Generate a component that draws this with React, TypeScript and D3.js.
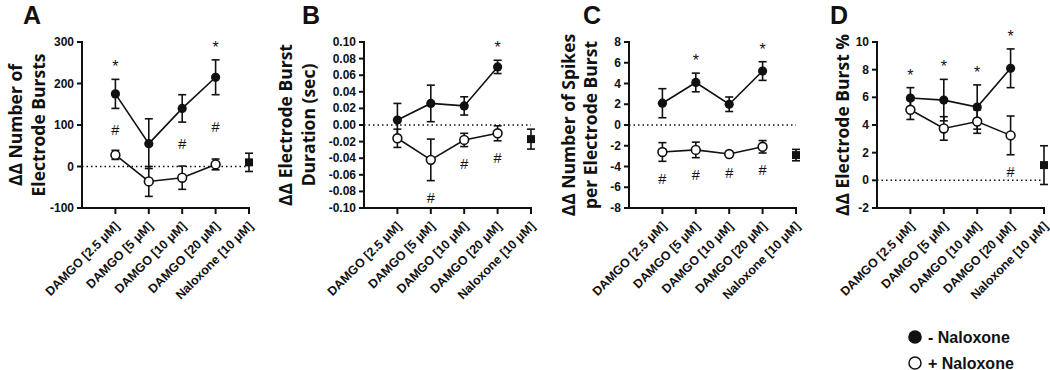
import React from "react";
import * as d3 from "d3";

// Treatment groups along every x axis
const categories = [
  "DAMGO [2.5 μM]",
  "DAMGO [5 μM]",
  "DAMGO [10 μM]",
  "DAMGO [20 μM]",
  "Naloxone [10 μM]",
];

// A: number of electrode bursts
const burstsMinus = [175, 55, 140, 215];
const burstsMinusErr = [35, 60, 33, 42];
const burstsPlus = [28, -36, -27, 5];
const burstsPlusErr = [11, 36, 28, 13];
const burstsNalox = 10;
const burstsNaloxErr = 22;
const burstsTicks = [-100, 0, 100, 200, 300];
const burstsStars = [0, 3];
const burstsHashes = [0, 2, 3];

// B: electrode burst duration (sec)
const durationMinus = [0.006, 0.026, 0.023, 0.07];
const durationMinusErr = [0.02, 0.022, 0.011, 0.008];
const durationPlus = [-0.016, -0.042, -0.018, -0.01];
const durationPlusErr = [0.011, 0.025, 0.008, 0.009];
const durationNalox = -0.017;
const durationNaloxErr = 0.012;
const durationTicks = [-0.1, -0.08, -0.06, -0.04, -0.02, 0, 0.02, 0.04, 0.06, 0.08, 0.1];
const durationStars = [3];
const durationHashes = [1, 2, 3];

// C: number of spikes per electrode burst
const spikesMinus = [2.1, 4.1, 2.0, 5.2];
const spikesMinusErr = [1.4, 0.9, 0.7, 0.9];
const spikesPlus = [-2.6, -2.4, -2.8, -2.1];
const spikesPlusErr = [0.9, 0.75, 0.2, 0.6];
const spikesNalox = -2.9;
const spikesNaloxErr = 0.55;
const spikesTicks = [-8, -6, -4, -2, 0, 2, 4, 6, 8];
const spikesStars = [1, 3];
const spikesHashes = [0, 1, 2, 3];

// D: electrode burst percentage
const percentMinus = [5.95, 5.8, 5.3, 8.1];
const percentMinusErr = [0.75, 1.5, 1.6, 1.4];
const percentPlus = [5.1, 3.75, 4.25, 3.25];
const percentPlusErr = [0.7, 0.85, 0.85, 1.4];
const percentNalox = 1.1;
const percentNaloxErr = 1.4;
const percentTicks = [-2, 0, 2, 4, 6, 8, 10];
const percentStars = [0, 1, 2, 3];
const percentHashes = [3];

const W = 1050;
const H = 370;
const TOP = 42;
const BOTTOM = 208;
const PLOT_W = 167;

const TICK_FONT = "'Liberation Sans', Arial, sans-serif";
const TITLE_FONT = "'Open Sans', 'Liberation Sans', sans-serif";

type PanelCfg = {
  letter: string;
  letterX: number;
  left: number;
  titles: { text: string; dx: number }[];
  ticks: number[];
  fmt: (v: number) => string;
  minus: number[];
  minusErr: number[];
  plus: number[];
  plusErr: number[];
  nalox: number;
  naloxErr: number;
  stars: number[];
  hashes: number[];
  hashMode: "between" | "below";
};

const hyphen = (f: (v: number) => string) => (v: number) => f(v).replace("−", "-");

const panels: PanelCfg[] = [
  {
    letter: "A",
    letterX: 23,
    left: 82,
    titles: [
      { text: "ΔΔ Number of", dx: -67 },
      { text: "Electrode Bursts", dx: -44 },
    ],
    ticks: burstsTicks,
    fmt: hyphen(d3.format("d")),
    minus: burstsMinus,
    minusErr: burstsMinusErr,
    plus: burstsPlus,
    plusErr: burstsPlusErr,
    nalox: burstsNalox,
    naloxErr: burstsNaloxErr,
    stars: burstsStars,
    hashes: burstsHashes,
    hashMode: "between",
  },
  {
    letter: "B",
    letterX: 302,
    left: 364,
    titles: [
      { text: "ΔΔ Electrode Burst", dx: -79 },
      { text: "Duration (sec)", dx: -56 },
    ],
    ticks: durationTicks,
    fmt: hyphen(d3.format(".2f")),
    minus: durationMinus,
    minusErr: durationMinusErr,
    plus: durationPlus,
    plusErr: durationPlusErr,
    nalox: durationNalox,
    naloxErr: durationNaloxErr,
    stars: durationStars,
    hashes: durationHashes,
    hashMode: "below",
  },
  {
    letter: "C",
    letterX: 583,
    left: 629,
    titles: [
      { text: "ΔΔ Number of Spikes", dx: -61 },
      { text: "per Electrode Burst", dx: -39 },
    ],
    ticks: spikesTicks,
    fmt: hyphen(d3.format("d")),
    minus: spikesMinus,
    minusErr: spikesMinusErr,
    plus: spikesPlus,
    plusErr: spikesPlusErr,
    nalox: spikesNalox,
    naloxErr: spikesNaloxErr,
    stars: spikesStars,
    hashes: spikesHashes,
    hashMode: "below",
  },
  {
    letter: "D",
    letterX: 830,
    left: 877,
    titles: [{ text: "ΔΔ Electrode Burst %", dx: -35 }],
    ticks: percentTicks,
    fmt: hyphen(d3.format("d")),
    minus: percentMinus,
    minusErr: percentMinusErr,
    plus: percentPlus,
    plusErr: percentPlusErr,
    nalox: percentNalox,
    naloxErr: percentNaloxErr,
    stars: percentStars,
    hashes: percentHashes,
    hashMode: "below",
  },
];

function ErrorBar({ x, y0, y1 }: { x: number; y0: number; y1: number }) {
  const cap = 4;
  return (
    <g stroke="#111" strokeWidth={1.6} fill="none">
      <line x1={x} x2={x} y1={y0} y2={y1} />
      <line x1={x - cap} x2={x + cap} y1={y0} y2={y0} />
      <line x1={x - cap} x2={x + cap} y1={y1} y2={y1} />
    </g>
  );
}

function Panel({ cfg }: { cfg: PanelCfg }) {
  const ext = d3.extent(cfg.ticks) as [number, number];
  const x = d3.scaleLinear().domain([0, categories.length]).range([cfg.left, cfg.left + PLOT_W]);
  const y = d3.scaleLinear().domain(ext).range([BOTTOM, TOP]);
  const px = (i: number) => x(i + 1);
  const line = d3
    .line<number>()
    .x((_, i) => px(i))
    .y((d) => y(d));
  const naloxIdx = categories.length - 1;
  const midY = (TOP + BOTTOM) / 2;
  const starFs = 16;
  const hashFs = 14.5;

  return (
    <g>
      <text
        x={cfg.letterX}
        y={24}
        fontFamily={TICK_FONT}
        fontWeight="bold"
        fontSize={25}
        fill="#111"
      >
        {cfg.letter}
      </text>

      {cfg.titles.map((t) => (
        <text
          key={t.text}
          transform={`translate(${cfg.left + t.dx},${midY}) rotate(-90)`}
          textAnchor="middle"
          dominantBaseline="central"
          fontFamily={TITLE_FONT}
          fontWeight="bold"
          fontSize={17.5}
          fill="#111"
        >
          {t.text}
        </text>
      ))}

      {/* zero reference */}
      <line
        x1={x(0)}
        x2={x(categories.length)}
        y1={y(0)}
        y2={y(0)}
        stroke="#111"
        strokeWidth={1.5}
        strokeDasharray="1.5 3"
      />

      {/* y axis */}
      <line x1={x(0)} x2={x(0)} y1={TOP - 1} y2={BOTTOM + 1} stroke="#111" strokeWidth={2} />
      {cfg.ticks.map((t) => (
        <g key={t}>
          <line x1={x(0) - 5} x2={x(0)} y1={y(t)} y2={y(t)} stroke="#111" strokeWidth={2} />
          <text
            x={x(0) - 8}
            y={y(t)}
            textAnchor="end"
            dominantBaseline="central"
            fontFamily={TICK_FONT}
            fontWeight="bold"
            fontSize={12}
            fill="#111"
          >
            {cfg.fmt(t)}
          </text>
        </g>
      ))}

      {/* x axis */}
      <line x1={x(0) - 1} x2={x(categories.length) + 1} y1={BOTTOM} y2={BOTTOM} stroke="#111" strokeWidth={2} />
      {categories.map((c, i) => (
        <g key={c}>
          <line x1={px(i)} x2={px(i)} y1={BOTTOM} y2={BOTTOM + 6} stroke="#111" strokeWidth={2} />
          <text
            transform={`translate(${px(i) + 2},${BOTTOM + 16}) rotate(-45)`}
            textAnchor="end"
            dominantBaseline="central"
            fontFamily={TICK_FONT}
            fontWeight="bold"
            fontSize={12.5}
            fill="#111"
          >
            {c}
          </text>
        </g>
      ))}

      {/* connecting lines */}
      <path d={line(cfg.minus) ?? ""} fill="none" stroke="#111" strokeWidth={1.6} />
      <path d={line(cfg.plus) ?? ""} fill="none" stroke="#111" strokeWidth={1.6} />

      {/* error bars */}
      {cfg.minus.map((v, i) => (
        <ErrorBar key={`me${i}`} x={px(i)} y0={y(v - cfg.minusErr[i])} y1={y(v + cfg.minusErr[i])} />
      ))}
      {cfg.plus.map((v, i) => (
        <ErrorBar key={`pe${i}`} x={px(i)} y0={y(v - cfg.plusErr[i])} y1={y(v + cfg.plusErr[i])} />
      ))}
      <ErrorBar x={px(naloxIdx)} y0={y(cfg.nalox - cfg.naloxErr)} y1={y(cfg.nalox + cfg.naloxErr)} />

      {/* markers */}
      {cfg.plus.map((v, i) => (
        <circle key={`pc${i}`} cx={px(i)} cy={y(v)} r={4.4} fill="#fff" stroke="#111" strokeWidth={1.6} />
      ))}
      {cfg.minus.map((v, i) => (
        <circle key={`mc${i}`} cx={px(i)} cy={y(v)} r={4.6} fill="#111" />
      ))}
      <rect x={px(naloxIdx) - 4} y={y(cfg.nalox) - 4} width={8} height={8} fill="#111" />

      {/* significance marks */}
      {cfg.stars.map((i) => {
        const c = y(cfg.minus[i] + cfg.minusErr[i]) - 16;
        return (
          <text
            key={`s${i}`}
            x={px(i)}
            y={c + starFs * 0.56}
            textAnchor="middle"
            fontFamily={TICK_FONT}
            fontSize={starFs}
            fill="#111"
          >
            *
          </text>
        );
      })}
      {cfg.hashes.map((i) => {
        const c =
          cfg.hashMode === "between"
            ? (y(cfg.minus[i] - cfg.minusErr[i]) + y(cfg.plus[i] + cfg.plusErr[i])) / 2
            : y(cfg.plus[i] - cfg.plusErr[i]) + 17;
        return (
          <text
            key={`h${i}`}
            x={px(i)}
            y={c + hashFs * 0.36}
            textAnchor="middle"
            fontFamily={TICK_FONT}
            fontSize={hashFs}
            fill="#111"
          >
            #
          </text>
        );
      })}
    </g>
  );
}

function Legend() {
  const items = [
    { label: "- Naloxone", filled: true, y: 337 },
    { label: "+ Naloxone", filled: false, y: 363 },
  ];
  return (
    <g>
      {items.map((it) => (
        <g key={it.label}>
          <circle
            cx={915}
            cy={it.y}
            r={it.filled ? 6.8 : 6}
            fill={it.filled ? "#111" : "#fff"}
            stroke="#111"
            strokeWidth={it.filled ? 0 : 1.5}
          />
          <text
            x={928}
            y={it.y}
            dominantBaseline="central"
            fontFamily={TICK_FONT}
            fontWeight="bold"
            fontSize={16}
            fill="#111"
          >
            {it.label}
          </text>
        </g>
      ))}
    </g>
  );
}

export default function App() {
  return (
    <svg
      width={W}
      height={H}
      viewBox={`0 0 ${W} ${H}`}
      style={{ position: "absolute", left: 0, top: 0, background: "#fff" }}
    >
      <rect width={W} height={H} fill="#fff" />
      {panels.map((p) => (
        <Panel key={p.letter} cfg={p} />
      ))}
      <Legend />
    </svg>
  );
}
